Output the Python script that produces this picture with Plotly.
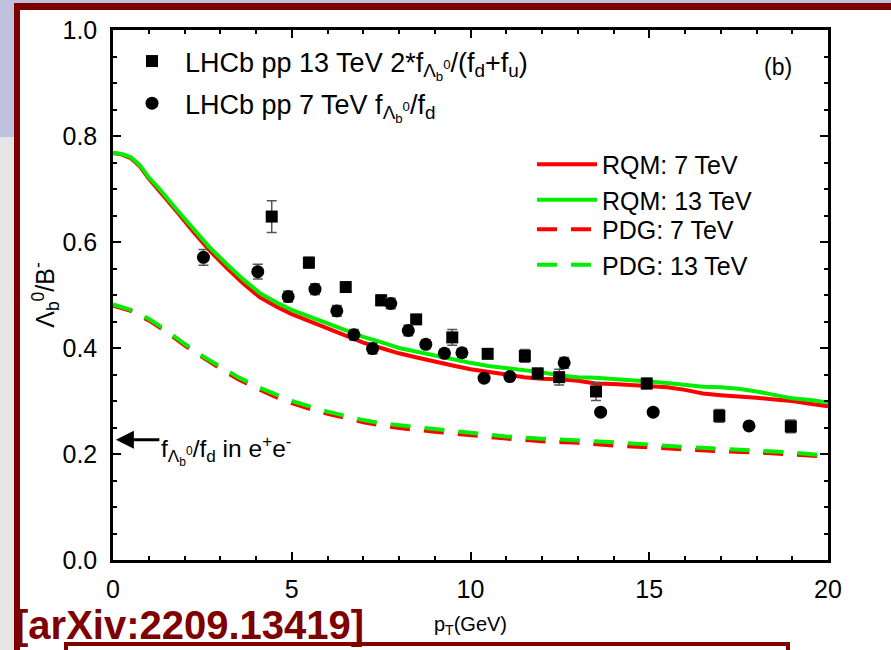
import plotly.graph_objects as go

# ---------------- data ----------------
sq_x = [4.44, 5.48, 6.51, 7.50, 8.48, 9.49, 10.48, 11.52, 11.88, 12.48, 13.51, 14.93, 16.96, 18.96]
sq_y = [0.648, 0.561, 0.515, 0.490, 0.454, 0.420, 0.389, 0.385, 0.352, 0.345, 0.318, 0.333, 0.272, 0.252]
sq_err = [0.030, 0.010, 0.008, 0.010, 0.008, 0.015, 0.008, 0.012, 0.010, 0.015, 0.017, 0.010, 0.012, 0.012]

ci_x = [2.53, 4.05, 4.90, 5.65, 6.26, 6.74, 7.26, 7.77, 8.26, 8.75, 9.27, 9.76, 10.38, 11.10, 12.62, 13.64, 15.11, 17.79]
ci_y = [0.571, 0.544, 0.497, 0.511, 0.470, 0.425, 0.399, 0.484, 0.433, 0.407, 0.390, 0.391, 0.343, 0.346, 0.372, 0.279, 0.279, 0.253]
ci_err = [0.015, 0.014, 0.010, 0.010, 0.010, 0.010, 0.010, 0.010, 0.010, 0.008, 0.008, 0.008, 0.006, 0.006, 0.010, 0.005, 0.005, 0.005]

rqm_x = [0, 0.25, 0.5, 0.75, 1.0, 1.3, 1.8, 2.25, 2.7, 3.2, 3.65, 4.1, 4.6, 5.0, 5.5, 6.0, 6.5, 7.0,
         7.5, 8.0, 8.5, 9.0, 9.5, 10.0, 10.5, 11.0, 11.5, 12.0, 12.5, 13.0, 13.5, 14.0, 14.5, 15.0,
         15.5, 16.0, 16.5, 17.0, 17.5, 18.0, 18.5, 19.0, 19.5, 20.0]
rqm_13 = [0.768, 0.766, 0.760, 0.745, 0.722, 0.700, 0.660, 0.624, 0.590, 0.557, 0.529, 0.504, 0.485,
          0.472, 0.459, 0.446, 0.433, 0.421, 0.411, 0.400, 0.393, 0.386, 0.378, 0.372, 0.366, 0.362,
          0.357, 0.354, 0.348, 0.345, 0.344, 0.342, 0.340, 0.337, 0.334, 0.330, 0.327, 0.326, 0.323,
          0.318, 0.311, 0.305, 0.302, 0.297]
rqm_7 = [0.768, 0.765, 0.758, 0.743, 0.720, 0.697, 0.656, 0.619, 0.584, 0.550, 0.521, 0.496, 0.477,
         0.464, 0.450, 0.436, 0.423, 0.410, 0.400, 0.390, 0.382, 0.374, 0.367, 0.360, 0.355, 0.351,
         0.345, 0.342, 0.341, 0.338, 0.333, 0.332, 0.330, 0.328, 0.326, 0.321, 0.314, 0.311, 0.309,
         0.306, 0.303, 0.300, 0.295, 0.290]

pdg_x = [0, 0.5, 1, 1.5, 2, 2.5, 3, 3.5, 4, 4.5, 5, 5.5, 6, 6.5, 7, 7.5, 8, 9, 10, 11, 12, 13, 14,
         15, 16, 17, 18, 19, 20]
pdg_13 = [0.482, 0.472, 0.455, 0.433, 0.408, 0.385, 0.365, 0.345, 0.328, 0.313, 0.300, 0.290, 0.280,
          0.272, 0.264, 0.258, 0.254, 0.247, 0.240, 0.233, 0.229, 0.226, 0.222, 0.218, 0.213, 0.210,
          0.207, 0.203, 0.197]
pdg_7 = [0.480, 0.470, 0.452, 0.430, 0.405, 0.382, 0.361, 0.341, 0.324, 0.309, 0.296, 0.285, 0.276,
         0.268, 0.260, 0.254, 0.249, 0.242, 0.235, 0.229, 0.224, 0.221, 0.216, 0.212, 0.208, 0.205,
         0.203, 0.199, 0.195]

x_ticks = [0, 5, 10, 15, 20]
y_ticks = [0.0, 0.2, 0.4, 0.6, 0.8, 1.0]

# ---------------- layout geometry ----------------
W, H = 891, 650
L, R, T, B = 113, 828, 30, 560
PW, PH = R - L, B - T


def px(xp):
    return (xp - L) / PW


def py(yp):
    return (B - yp) / PH


FONT = "Liberation Sans, Arial, sans-serif"
RED, GREEN = "#ff0000", "#00ee00"
DARKRED = "#7f0000"
LAV = "#bec2dc"
GRAY = "#e6e6e6"

fig = go.Figure()

lw = 4
fig.add_trace(go.Scatter(x=rqm_x, y=rqm_7, mode="lines", name="RQM: 7 TeV",
                         line=dict(color=RED, width=lw), legend="legend2"))
fig.add_trace(go.Scatter(x=rqm_x, y=rqm_13, mode="lines", name="RQM: 13 TeV",
                         line=dict(color=GREEN, width=lw), legend="legend2"))
fig.add_trace(go.Scatter(x=pdg_x, y=pdg_7, mode="lines", name="PDG: 7 TeV",
                         line=dict(color=RED, width=lw, dash="20px,14px"), legend="legend3"))
fig.add_trace(go.Scatter(x=pdg_x, y=pdg_13, mode="lines", name="PDG: 13 TeV",
                         line=dict(color=GREEN, width=lw, dash="20px,14px"), legend="legend3"))

eb = dict(type="data", thickness=1.5, width=5, color="#555555")
fig.add_trace(go.Scatter(
    x=sq_x, y=sq_y, mode="markers", legendgroup="sq",
    name="LHCb pp 13 TeV 2*f<sub>Λ<sub>b</sub><sup>0</sup></sub>/(f<sub>d</sub>+f<sub>u</sub>)",
    marker=dict(symbol="square", size=12, color="black"),
    error_y=dict(array=sq_err, **eb), legend="legend"))
fig.add_trace(go.Scatter(
    x=ci_x, y=ci_y, mode="markers", legendgroup="ci",
    name="LHCb pp 7 TeV f<sub>Λ<sub>b</sub><sup>0</sup></sub>/f<sub>d</sub>",
    marker=dict(symbol="circle", size=13, color="black"),
    error_y=dict(array=ci_err, **eb), legend="legend"))

axis_common = dict(
    showline=True, linecolor="black", linewidth=2.5, mirror="ticks",
    ticks="inside", ticklen=8, tickwidth=2, tickcolor="black",
    showgrid=False, zeroline=False,
    tickfont=dict(family=FONT, size=25, color="black"),
)

fig.update_xaxes(range=[0, 20], tickvals=x_ticks, ticktext=[str(v) for v in x_ticks],
                 minor=dict(ticks="inside", ticklen=4, tickwidth=2, dtick=1, tickcolor="black"),
                 title=dict(text="p<sub>T</sub>(GeV)", font=dict(family=FONT, size=20, color="black"),
                            standoff=16),
                 ticklabelstandoff=5,
                 **axis_common)
fig.update_yaxes(range=[0, 1.0], tickvals=y_ticks, ticktext=[f"{v:.1f}" for v in y_ticks],
                 minor=dict(ticks="inside", ticklen=4, tickwidth=2, dtick=0.05, tick0=0,
                            tickcolor="black"),
                 title=dict(text="Λ<sub>b</sub><sup>0</sup>/B<sup>-</sup>",
                            font=dict(family=FONT, size=25, color="black"), standoff=1),
                 ticklabelstandoff=8,
                 **axis_common)

shapes = []


def rect(x0, y0, x1, y1, color):
    shapes.append(dict(type="rect", xref="paper", yref="paper",
                       x0=px(x0), x1=px(x1), y0=py(y1), y1=py(y0),
                       fillcolor=color, line=dict(width=0), layer="below"))


# slide background decoration
rect(0, 0, W, 4, LAV)
rect(0, 0, 14, 137, LAV)
rect(0, 137, 14, H, GRAY)
rect(14, 3, W, 10, DARKRED)
rect(14, 3, 20, H, DARKRED)
rect(64, 642, 790, 646, DARKRED)
rect(64, 642, 68, H, DARKRED)
rect(786, 642, 790, H, DARKRED)

annotations = [
    dict(text="(b)", x=px(778), y=py(67), xref="paper", yref="paper", showarrow=False,
         font=dict(family=FONT, size=23, color="black"), xanchor="center", yanchor="middle"),
    dict(text="", x=0.08, y=0.227, xref="x", yref="y", ax=45, ay=0, showarrow=True,
         arrowhead=2, arrowsize=1.2, arrowwidth=3, arrowcolor="black"),
    dict(text="f<sub>Λ<sub>b</sub><sup>0</sup></sub>/f<sub>d</sub> in e<sup>+</sup>e<sup>-</sup>",
         x=px(159), y=py(450), xref="paper", yref="paper", showarrow=False,
         font=dict(family=FONT, size=24.5, color="black"), xanchor="left", yanchor="middle"),
    dict(text="<b>[arXiv:2209.13419]</b>", x=px(13), y=py(625), xref="paper", yref="paper",
         showarrow=False, font=dict(family="Liberation Sans Narrow, " + FONT, size=40, color=DARKRED),
         xanchor="left", yanchor="middle"),
]

leg_common = dict(xanchor="left", yanchor="top", bgcolor="rgba(0,0,0,0)", borderwidth=0,
                  font=dict(family=FONT, size=25, color="black"), itemwidth=60)

fig.update_layout(
    width=W, height=H,
    margin=dict(l=L, r=W - R, t=T, b=H - B, pad=0),
    paper_bgcolor="white", plot_bgcolor="white",
    font=dict(family=FONT, color="black"),
    shapes=shapes, annotations=annotations,
    legend=dict(x=px(119), y=py(37), xanchor="left", yanchor="top",
                bgcolor="rgba(0,0,0,0)", borderwidth=0,
                font=dict(family=FONT, size=27, color="black"),
                itemwidth=56, tracegroupgap=4),
    legend2=dict(x=px(532), y=py(141.5), **leg_common),
    legend3=dict(x=px(532), y=py(206.5), **leg_common),
    showlegend=True,
)

fig.write_html("out.html")
